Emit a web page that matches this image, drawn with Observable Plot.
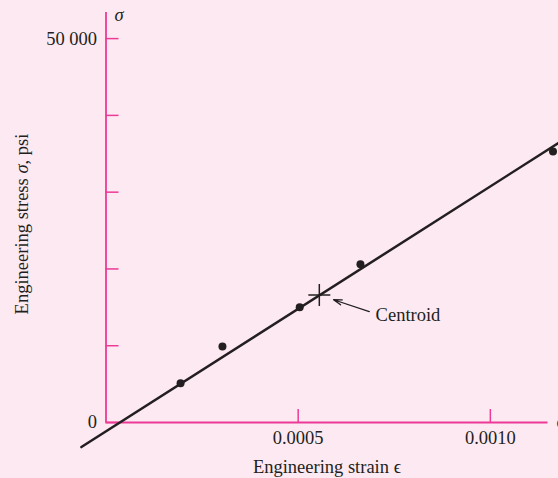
<!DOCTYPE html>
<html>
<head>
<meta charset="utf-8">
<script src="https://cdn.jsdelivr.net/npm/d3@7"></script>
<script src="https://cdn.jsdelivr.net/npm/@observablehq/plot@0.6"></script>
<style>
  html, body { margin: 0; padding: 0; background: #fde9f2; }
</style>
</head>
<body>
<div id="chart"></div>
<script>
// Data
const strain = [0.000194, 0.000303, 0.000504, 0.000662, 0.001163];
const stress = [5100, 9900, 15000, 20600, 35300];
// least-squares line (ends as drawn)
const fitStrain = [-0.000064, 0.001177];
const fitStress = [-3200, 36400];
// centroid marker and its annotation
const centroidStrain = [0.000555];
const centroidStress = [16600];
const noteStrain = [0.000685];
const noteStress = [14450];
const noteText = ["Centroid"];
// ticks
const yTicks = [0, 10000, 20000, 30000, 40000, 50000];
const yTickLabels = ["0", "", "", "", "", "50 000"];
const xTicks = [0.0005, 0.0010];
const xTickLabels = ["0.0005", "0.0010"];
const xLabel = "Engineering strain \u03f5";
const yLabelParts = ["Engineering stress ", "\u03c3", ", psi"];
const yAxisSymbol = "\u03c3";
const xAxisSymbol = "\u03f5";

const pink = "#ec3a96";
const ink = "#231f20";
const bg = "#fde9f2";

const points = strain.map((s, i) => ({strain: s, stress: stress[i]}));
const fit = fitStrain.map((s, i) => ({strain: s, stress: fitStress[i]}));
const centroid = centroidStrain.map((s, i) => ({strain: s, stress: centroidStress[i]}));
const note = noteStrain.map((s, i) => ({
  strain: s, stress: noteStress[i], text: noteText[i],
  cx: centroidStrain[i], cy: centroidStress[i]
}));
const yLabelMap = new Map(yTicks.map((t, i) => [t, yTickLabels[i]]));
const xLabelMap = new Map(xTicks.map((t, i) => [t, xTickLabels[i]]));

const plusSymbol = {
  draw(ctx, size) {
    const h = Math.sqrt(size / Math.PI);
    ctx.moveTo(-h, 0); ctx.lineTo(h, 0);
    ctx.moveTo(0, -h); ctx.lineTo(0, h);
  }
};

const chart = Plot.plot({
  width: 558,
  height: 478,
  marginLeft: 105.5,
  marginRight: 10.5,
  marginTop: 12,
  marginBottom: 56,
  style: {
    background: bg,
    fontFamily: "'Liberation Serif', 'Times New Roman', serif",
    fontSize: "18.5px",
    color: ink
  },
  x: {domain: [0, 0.00115], axis: null},
  y: {domain: [0, 53400], axis: null},
  marks: [
    // axis lines
    Plot.ruleX([0], {stroke: pink, strokeWidth: 1.8}),
    Plot.ruleY([0], {stroke: pink, strokeWidth: 1.8}),
    // inward ticks
    Plot.axisY(yTicks, {anchor: "left", tickSize: -13, text: null, stroke: pink, strokeWidth: 1.5}),
    Plot.axisX(xTicks, {anchor: "bottom", tickSize: -13, text: null, stroke: pink, strokeWidth: 1.5}),
    // tick labels
    Plot.axisY(yTicks, {anchor: "left", tickSize: 0, tickPadding: 9, tickFormat: d => yLabelMap.get(d), fill: ink, label: null}),
    Plot.axisX(xTicks, {anchor: "bottom", tickSize: 0, tickPadding: 8, tickFormat: d => xLabelMap.get(d), fill: ink, label: null}),
    // axis titles
    Plot.text([xLabel], {frameAnchor: "bottom", textAnchor: "middle", lineAnchor: "middle", dy: 44.5, fill: ink}),
    Plot.text([yLabelParts.join("")], {frameAnchor: "left", textAnchor: "middle", lineAnchor: "middle", rotate: -90, dx: -83.7, dy: 6.5, fill: ink}),
    Plot.text([yAxisSymbol], {frameAnchor: "top-left", textAnchor: "start", lineAnchor: "middle", dx: 8.5, dy: 2.5, fill: ink, fontStyle: "italic"}),
    Plot.text([xAxisSymbol], {frameAnchor: "bottom-right", textAnchor: "start", lineAnchor: "middle", dx: 8.5, dy: 0, fill: ink}),
    // fitted line
    Plot.line(fit, {x: "strain", y: "stress", stroke: ink, strokeWidth: 2.5}),
    // data points
    Plot.dot(points, {x: "strain", y: "stress", r: 4, fill: ink, stroke: "none"}),
    // centroid
    Plot.dot(centroid, {x: "strain", y: "stress", symbol: plusSymbol, r: 11, stroke: ink, fill: "none", strokeWidth: 1.5}),
    Plot.arrow(note, {x1: "strain", y1: "stress", x2: "cx", y2: "cy", bend: 0, insetEnd: 15, stroke: ink, strokeWidth: 1.3, headLength: 10, headAngle: 35}),
    Plot.text(note, {x: "strain", y: "stress", text: "text", textAnchor: "start", lineAnchor: "middle", dx: 6.3, dy: 4, fill: ink})
  ]
});

// italic sigma in the rotated y title
chart.querySelectorAll("text").forEach(t => {
  if (t.textContent === yLabelParts.join("")) {
    t.textContent = "";
    yLabelParts.forEach((p, i) => {
      const ts = document.createElementNS("http://www.w3.org/2000/svg", "tspan");
      ts.textContent = p;
      if (i === 1) ts.setAttribute("font-style", "italic");
      t.appendChild(ts);
    });
  }
});

document.getElementById("chart").appendChild(chart);
</script>
</body>
</html>
